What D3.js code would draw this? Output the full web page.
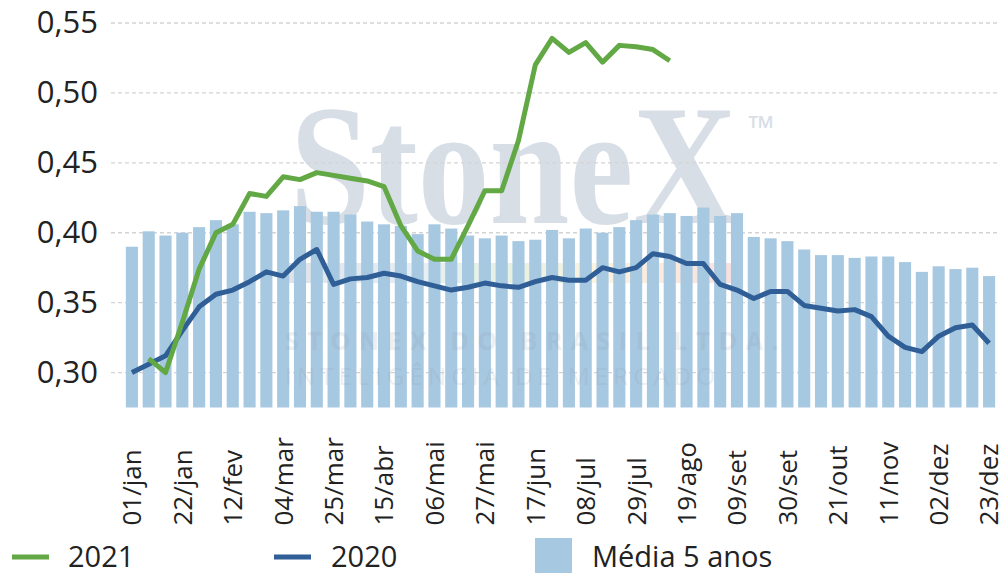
<!DOCTYPE html>
<html>
<head>
<meta charset="utf-8">
<script src="https://cdn.jsdelivr.net/npm/d3@7/dist/d3.min.js"></script>
<style>
  body { margin: 0; background: #fff; }
  svg { display: block; font-family: "Open Sans", "Noto Sans", sans-serif; }
</style>
</head>
<body>
<div id="grafico"></div>
<script>
const width = 999;
const height = 573;

// semanas (base 2020)
const weeks = [
  "01/jan", "08/jan", "15/jan", "22/jan", "29/jan", "05/fev", "12/fev", "19/fev", "26/fev",
  "04/mar", "11/mar", "18/mar", "25/mar", "01/abr", "08/abr", "15/abr", "22/abr", "29/abr",
  "06/mai", "13/mai", "20/mai", "27/mai", "03/jun", "10/jun", "17/jun", "24/jun",
  "01/jul", "08/jul", "15/jul", "22/jul", "29/jul", "05/ago", "12/ago", "19/ago", "26/ago",
  "02/set", "09/set", "16/set", "23/set", "30/set", "07/out", "14/out", "21/out", "28/out",
  "04/nov", "11/nov", "18/nov", "25/nov", "02/dez", "09/dez", "16/dez", "23/dez"
];

const tickLabels = [
  "01/jan", "22/jan", "12/fev", "04/mar", "25/mar", "15/abr", "06/mai", "27/mai", "17/jun",
  "08/jul", "29/jul", "19/ago", "09/set", "30/set", "21/out", "11/nov", "02/dez", "23/dez"
];

const yTicks = [0.30, 0.35, 0.40, 0.45, 0.50, 0.55];

const media5 = [
  0.390, 0.401, 0.398, 0.400, 0.404, 0.409, 0.406, 0.415, 0.414, 0.416,
  0.419, 0.415, 0.415, 0.413, 0.408, 0.406, 0.405, 0.399, 0.406, 0.403,
  0.398, 0.396, 0.398, 0.394, 0.395, 0.402, 0.396, 0.403, 0.400, 0.404,
  0.409, 0.413, 0.414, 0.412, 0.418, 0.412, 0.414, 0.397, 0.396, 0.394,
  0.388, 0.384, 0.384, 0.382, 0.383, 0.383, 0.379, 0.372, 0.376, 0.374,
  0.375, 0.369
];

const serie2020 = [
  0.300, 0.306, 0.312, 0.330, 0.347, 0.356, 0.359, 0.365, 0.372, 0.369,
  0.381, 0.388, 0.363, 0.367, 0.368, 0.371, 0.369, 0.365, 0.362, 0.359,
  0.361, 0.364, 0.362, 0.361, 0.365, 0.368, 0.366, 0.366, 0.375, 0.372,
  0.375, 0.385, 0.383, 0.378, 0.378, 0.363, 0.359, 0.353, 0.358, 0.358,
  0.348, 0.346, 0.344, 0.345, 0.340, 0.326, 0.318, 0.315, 0.326, 0.332,
  0.334, 0.321
];

const serie2021 = [
  null, 0.310, 0.300, 0.336, 0.374, 0.400, 0.406, 0.428, 0.426, 0.440,
  0.438, 0.443, 0.441, 0.439, 0.437, 0.433, 0.405, 0.387, 0.381, 0.381,
  0.405, 0.430, 0.430, 0.466, 0.520, 0.539, 0.529, 0.536, 0.522, 0.534,
  0.533, 0.531, 0.523
];

const corBarra = "#a7c8e1";
const cor2020 = "#2f5f96";
const cor2021 = "#62a844";

const svg = d3.select("#grafico")
  .append("svg")
  .attr("width", width)
  .attr("height", height);

const x = d3.scaleBand()
  .domain(weeks)
  .range([123.5, 997.5])
  .paddingInner(0.28)
  .paddingOuter(0.14);

const y = d3.scaleLinear()
  .domain([0.275, 0.55])
  .range([407.5, 23]);

// marca d'agua
svg.append("text")
  .attr("x", 290)
  .attr("y", 223)
  .attr("textLength", 447)
  .attr("lengthAdjust", "spacingAndGlyphs")
  .attr("font-family", "'Liberation Serif', serif")
  .attr("font-weight", "bold")
  .attr("font-size", 172)
  .attr("fill", "#d8dee6")
  .text("StoneX");
svg.append("text")
  .attr("x", 748)
  .attr("y", 140)
  .attr("font-size", 34)
  .attr("fill", "#d8dee6")
  .text("™");

// grade
svg.append("g")
  .selectAll("line")
  .data(yTicks)
  .enter()
  .append("line")
  .attr("x1", 111)
  .attr("x2", width)
  .attr("y1", d => y(d))
  .attr("y2", d => y(d))
  .attr("stroke", "#d3d3d3")
  .attr("stroke-width", 1.3)
  .attr("stroke-dasharray", "4,3");

// faixa colorida da marca
const grad = svg.append("defs").append("linearGradient").attr("id", "faixa");
[["0%", "#c9d0da"], ["30%", "#d6e4f0"], ["50%", "#d7e6cf"], ["70%", "#fbeccc"], ["85%", "#f8dcc8"], ["100%", "#f2cccc"]]
  .forEach(s => grad.append("stop").attr("offset", s[0]).attr("stop-color", s[1]));
svg.append("rect")
  .attr("x", 283).attr("y", 263).attr("width", 450).attr("height", 20)
  .attr("fill", "url(#faixa)").attr("opacity", 0.6);

// barras
svg.append("g")
  .selectAll("rect")
  .data(media5)
  .enter()
  .append("rect")
  .attr("x", (d, i) => x(weeks[i]))
  .attr("y", d => y(d))
  .attr("width", x.bandwidth())
  .attr("height", d => y.range()[0] - y(d))
  .attr("fill", corBarra);

// textos da marca sobre as barras
svg.append("text")
  .attr("x", 285).attr("y", 350)
  .attr("font-size", 25).attr("font-weight", "bold")
  .attr("letter-spacing", 8.5)
  .attr("fill", "#8c96a3").attr("opacity", 0.15)
  .text("STONEX DO BRASIL LTDA.");
svg.append("text")
  .attr("x", 285).attr("y", 385)
  .attr("font-size", 24)
  .attr("letter-spacing", 5.2)
  .attr("fill", "#8c96a3").attr("opacity", 0.14)
  .text("INTELIGÊNCIA DE MERCADO");

// linhas
const line = d3.line()
  .defined(d => d != null)
  .x((d, i) => x(weeks[i]) + x.bandwidth() / 2)
  .y(d => y(d));

svg.append("path")
  .datum(serie2020)
  .attr("d", line)
  .attr("fill", "none")
  .attr("stroke", cor2020)
  .attr("stroke-width", 5)
  .attr("stroke-linejoin", "round");

svg.append("path")
  .datum(serie2021)
  .attr("d", line)
  .attr("fill", "none")
  .attr("stroke", cor2021)
  .attr("stroke-width", 5)
  .attr("stroke-linejoin", "round");

// eixo y
const yAxis = svg.append("g")
  .attr("transform", "translate(98,0)")
  .call(d3.axisLeft(y).tickValues(yTicks).tickSize(0).tickPadding(0)
    .tickFormat(d => d3.format(".2f")(d).replace(".", ",")));
yAxis.select(".domain").remove();
yAxis.selectAll("text")
  .attr("font-size", 31)
  .attr("font-family", "'Open Sans', sans-serif")
  .attr("fill", "#222");

// eixo x
const xAxis = svg.append("g")
  .attr("transform", `translate(0,${y.range()[0]})`)
  .call(d3.axisBottom(x).tickValues(tickLabels).tickSize(0));
xAxis.select(".domain").remove();
xAxis.selectAll("text")
  .attr("font-size", 26)
  .attr("font-family", "'Open Sans', sans-serif")
  .attr("fill", "#222")
  .attr("text-anchor", "start")
  .attr("x", 0)
  .attr("y", 0)
  .attr("dy", "0.36em")
  .attr("transform", "translate(0,118) rotate(-90)");

// legenda
const legend = svg.append("g").attr("font-size", 29).attr("fill", "#222");
legend.append("line")
  .attr("x1", 12).attr("x2", 49).attr("y1", 557).attr("y2", 557)
  .attr("stroke", cor2021).attr("stroke-width", 5);
legend.append("text").attr("x", 68).attr("y", 567).text("2021");
legend.append("line")
  .attr("x1", 274).attr("x2", 311).attr("y1", 557).attr("y2", 557)
  .attr("stroke", cor2020).attr("stroke-width", 5);
legend.append("text").attr("x", 331).attr("y", 567).text("2020");
legend.append("rect")
  .attr("x", 535).attr("y", 538).attr("width", 37).attr("height", 37)
  .attr("fill", corBarra);
legend.append("text").attr("x", 592).attr("y", 567).text("Média 5 anos");
</script>
</body>
</html>
